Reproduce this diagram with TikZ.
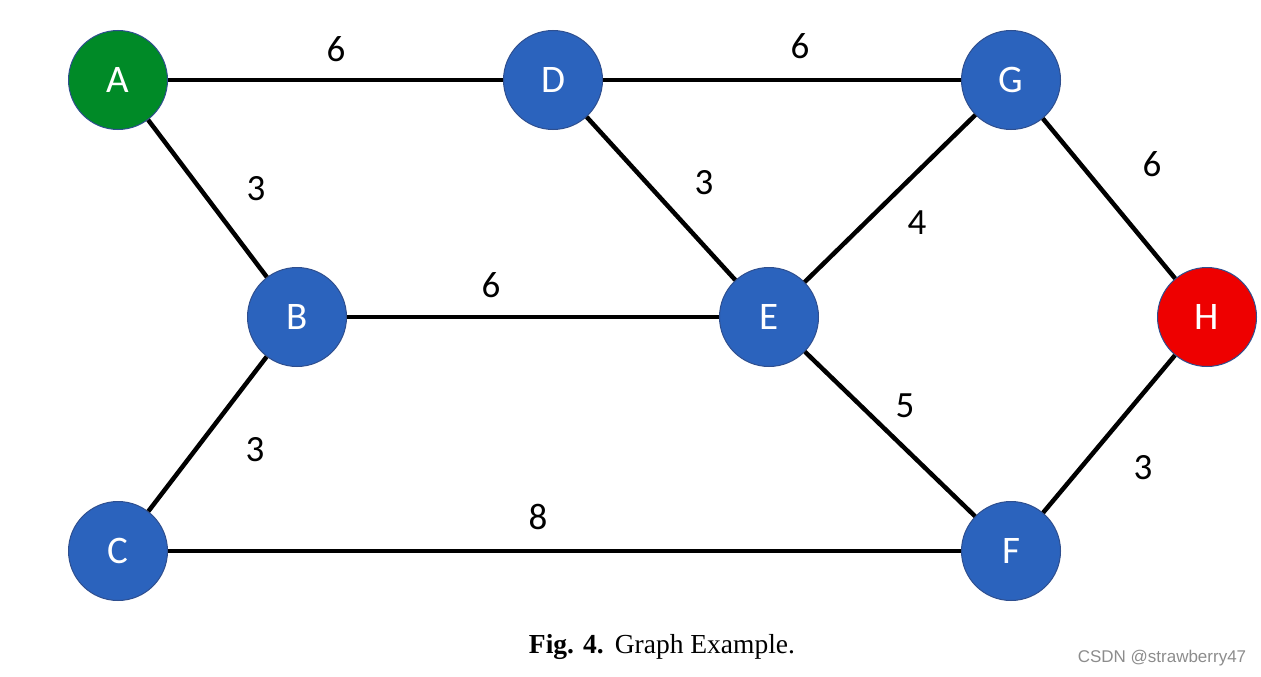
\documentclass[tikz,border=0pt]{standalone}
\usepackage{fontspec}
\setmainfont{Carlito}
\newfontfamily\capfont{Liberation Serif}
\newfontfamily\wmfont{Liberation Sans}
\definecolor{nblue}{HTML}{2B63BD}
\definecolor{ngreen}{HTML}{008A27}
\definecolor{nred}{HTML}{EE0000}
\definecolor{nedge}{HTML}{2F4F8F}
\begin{document}
\begin{tikzpicture}[x=1pt,y=-1pt,
  vtx/.style={circle,minimum size=99pt,inner sep=0pt,draw=nedge,line width=1pt,fill=nblue,text=white,font=\fontsize{39}{39}\selectfont},
  edge/.style={line width=4.5pt,black},
  wt/.style={font=\fontsize{37}{37}\selectfont,text=black}]
\useasboundingbox (0,0) rectangle (1261,677);
\node[vtx,fill=ngreen] (A) at (118,80) {A};
\node[vtx] (D) at (553,80) {D};
\node[vtx] (G) at (1011,80) {G};
\node[vtx] (B) at (297,317) {B};
\node[vtx] (E) at (769,317) {E};
\node[vtx,fill=nred] (H) at (1207,317) {H};
\node[vtx] (C) at (118,551) {C};
\node[vtx] (F) at (1011,551) {F};
\draw[edge] (A) -- (D);
\draw[edge] (D) -- (G);
\draw[edge] (A) -- (B);
\draw[edge] (D) -- (E);
\draw[edge] (E) -- (G);
\draw[edge] (G) -- (H);
\draw[edge] (B) -- (E);
\draw[edge] (E) -- (F);
\draw[edge] (H) -- (F);
\draw[edge] (B) -- (C);
\draw[edge] (C) -- (F);
\node[wt] (w1) at (336,49) {6};
\node[wt] (w2) at (800,46) {6};
\node[wt] (w3) at (256,189) {3};
\node[wt] (w4) at (704,183) {3};
\node[wt] (w5) at (917,223) {4};
\node[wt] (w6) at (1152,164) {6};
\node[wt] (w7) at (491,285) {6};
\node[wt] (w8) at (905,406) {5};
\node[wt] (w9) at (1143,468) {3};
\node[wt] (w10) at (255,450) {3};
\node[wt] (w11) at (538,517) {8};
\node (cap) at (662,647) {\capfont\fontsize{27.5}{27.5}\selectfont\textbf{Fig. 4.}\hspace{0.4em}Graph Example.};
\node[text=black!45] (wm) at (1162,658) {\wmfont\fontsize{17}{17}\selectfont CSDN @strawberry47};
\end{tikzpicture}
\end{document}
